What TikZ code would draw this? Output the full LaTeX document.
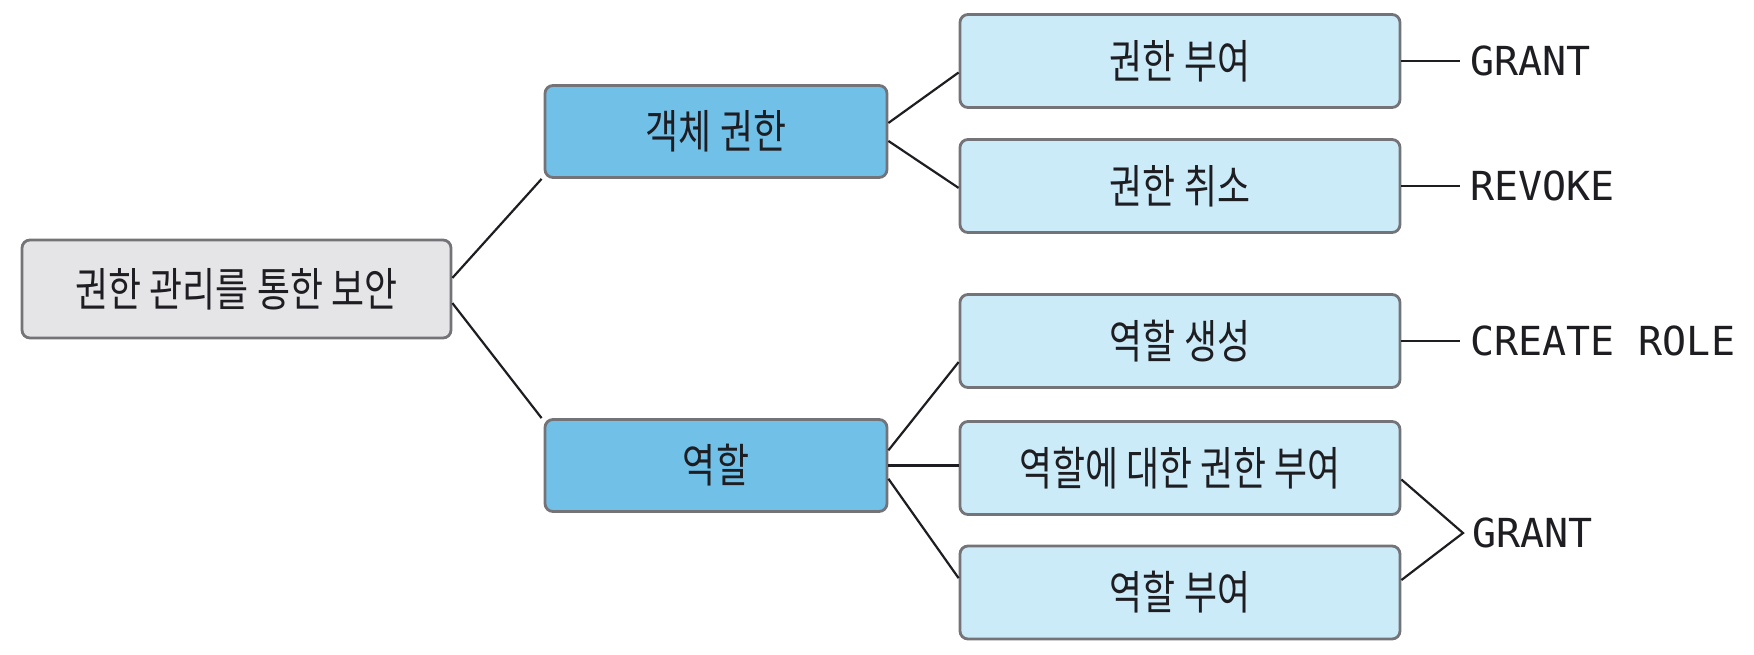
\documentclass[tikz,border=0pt]{standalone}
\usepackage{fontspec}
\setmainfont{Noto Sans CJK KR}[FakeStretch=0.78]
\newfontfamily\monofam{DejaVu Sans Mono}
\usetikzlibrary{calc}
\definecolor{rootfill}{RGB}{229,229,232}
\definecolor{midfill}{RGB}{112,192,232}
\definecolor{leaffill}{RGB}{204,235,249}
\definecolor{boxline}{RGB}{115,115,120}
\definecolor{inkc}{RGB}{30,30,34}
\tikzset{
  box/.style={draw=boxline, line width=2.8pt, rounded corners=8pt, inner sep=0pt,
    text=inkc, font=\fontsize{46}{54}\selectfont, anchor=center},
  rootbox/.style={box, fill=rootfill, minimum width=429pt, minimum height=98pt},
  midbox/.style={box, fill=midfill, minimum width=342pt, minimum height=92pt},
  leafbox/.style={box, fill=leaffill, minimum width=440pt, minimum height=93pt},
  conn/.style={draw=inkc, line width=2.2pt},
  cmd/.style={anchor=west, inner sep=0pt, text=inkc, font=\monofam\fontsize{40}{48}\selectfont},
}
\begin{document}
\begin{tikzpicture}[x=1pt,y=-1pt]
\useasboundingbox (0,0) rectangle (1754,654);
\node[rootbox] (root) at (236.5,289) {권한 관리를 통한 보안};
\node[midbox] (obj) at (716,131.5) {객체 권한};
\node[midbox] (role) at (716,465.5) {역할};
\node[leafbox] (r1) at (1180,61) {권한 부여};
\node[leafbox] (r2) at (1180,186) {권한 취소};
\node[leafbox] (r3) at (1180,341) {역할 생성};
\node[leafbox] (r4) at (1180,468) {역할에 대한 권한 부여};
\node[leafbox] (r5) at (1180,592.5) {역할 부여};
% labels
\node[cmd] (g1) at (1470,61) {GRANT};
\node[cmd] (rv) at (1470,186) {REVOKE};
\node[cmd] (cr) at (1470,341) {CREATE ROLE};
\node[cmd] (g2) at (1472,533) {GRANT};
\coordinate (apex) at (1463,533);
% connectors root
\draw[conn] ($(root.north east)!0.39!(root.south east)$) -- ($(obj.south west)+(-2,0)$);
\draw[conn] ($(root.north east)!0.64!(root.south east)$) -- ($(role.north west)+(-2,0)$);
% obj
\draw[conn] ($(obj.north east)!0.41!(obj.south east)$) -- ($(r1.north west)!0.62!(r1.south west)$);
\draw[conn] ($(obj.north east)!0.60!(obj.south east)$) -- ($(r2.north west)!0.52!(r2.south west)$);
% role
\draw[conn] ($(role.north east)!0.34!(role.south east)$) -- ($(r3.north west)!0.72!(r3.south west)$);
\draw[conn] ($(role.north east)!0.50!(role.south east)$) -- (r4.west |- {$(role.north east)!0.50!(role.south east)$});
\draw[conn] ($(role.north east)!0.64!(role.south east)$) -- ($(r5.north west)!0.35!(r5.south west)$);
% right side
\draw[conn] (r1.east) -- (g1.west -| 1460,0);
\draw[conn] (r2.east) -- (rv.west -| 1460,0);
\draw[conn] (r3.east) -- (cr.west -| 1460,0);
\draw[conn] ($(r4.north east)!0.62!(r4.south east)$) -- (apex) -- ($(r5.north east)!0.37!(r5.south east)$);
\end{tikzpicture}
\end{document}
